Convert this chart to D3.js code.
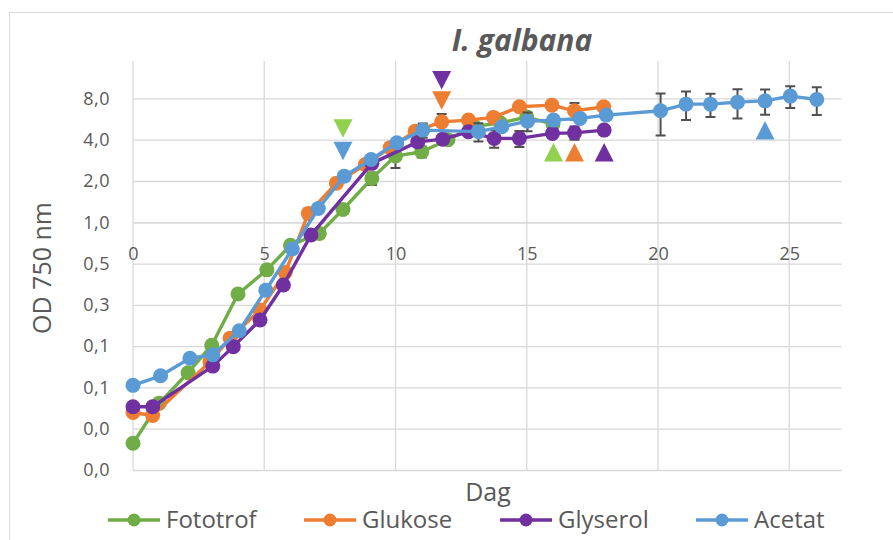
<!DOCTYPE html>
<html>
<head>
<meta charset="utf-8">
<script src="https://cdn.jsdelivr.net/npm/d3@7"></script>
<style>
  html, body { margin: 0; padding: 0; background: #fff; }
  svg { display: block; font-family: 'Open Sans', sans-serif; }
</style>
</head>
<body>
<div id="chart"></div>
<script>
// Data (OD 750 nm vs day)
const fototrofDays = [0, 1, 2.1, 3, 4, 5.1, 6, 7.1, 8, 9.1, 10, 11, 12, 13, 14, 15, 16];
const fototrofOD = [0.0245, 0.048, 0.080, 0.127, 0.30, 0.45, 0.68, 0.83, 1.24, 2.09, 3.04, 3.27, 4.0, 5.0, 5.3, 5.85, 5.2];
const fototrofErr = [0, 0, 0, 0, 0, 0, 0, 0, 0, 0.22, 0.55, 0.3, 0, 0, 0, 0, 0];

const glukoseDays = [0, 0.75, 2.93, 3.7, 4.84, 5.8, 6.68, 7.75, 8.85, 9.8, 10.75, 11.76, 12.78, 13.73, 14.72, 15.96, 16.82, 17.93];
const glukoseOD = [0.041, 0.039, 0.096, 0.143, 0.229, 0.43, 1.16, 1.93, 2.64, 3.5, 4.62, 5.40, 5.56, 5.82, 6.95, 7.15, 6.50, 6.95];
const glukoseErr = [0, 0, 0, 0, 0, 0, 0.1, 0, 0, 0, 0, 0.75, 0, 0, 0, 0, 0.9, 0.4];

const glyserolDays = [0, 0.75, 3.04, 3.82, 4.84, 5.73, 6.78, 9.1, 10.85, 11.8, 12.78, 13.76, 14.72, 15.98, 16.82, 17.95];
const glyserolOD = [0.0452, 0.0452, 0.0894, 0.124, 0.194, 0.349, 0.807, 2.69, 3.86, 4.04, 4.57, 4.09, 4.09, 4.45, 4.49, 4.70];
const glyserolErr = [0, 0, 0, 0, 0, 0, 0, 0, 0, 0, 0, 0.6, 0.55, 0, 0.5, 0.3];

const acetatDays = [0, 1.05, 2.17, 3.04, 4.05, 5.06, 6.07, 7.06, 8.05, 9.07, 10.05, 11.04, 13.16, 14.05, 15.03, 16.02, 17.03, 18.03, 20.1, 21.07, 22, 23.03, 24.08, 25.04, 26.05];
const acetatOD = [0.0647, 0.076, 0.102, 0.108, 0.162, 0.32, 0.638, 1.26, 2.17, 2.87, 3.80, 4.70, 4.58, 4.97, 5.46, 5.56, 5.72, 6.05, 6.50, 7.27, 7.27, 7.52, 7.68, 8.32, 7.87];
const acetatErr = [0, 0, 0, 0, 0, 0, 0, 0, 0, 0, 0, 0.56, 0.7, 0, 0.85, 0, 0, 0, 2.2, 1.7, 1.4, 1.8, 1.6, 1.5, 1.8];

// Phase markers (triangles)
const markerSeries = ['Fototrof', 'Acetat', 'Glyserol', 'Glukose', 'Fototrof', 'Glukose', 'Glyserol', 'Acetat'];
const markerDays = [8, 8, 11.76, 11.76, 16.02, 16.82, 17.95, 24.08];
const markerOD = [4.85, 3.32, 10.9, 7.76, 3.23, 3.23, 3.23, 4.67];
const markerDir = ['down', 'down', 'down', 'down', 'up', 'up', 'up', 'up'];

const seriesNames = ['Fototrof', 'Glukose', 'Glyserol', 'Acetat'];
const xTicks = [0, 5, 10, 15, 20, 25];
const yTicks = [1 / 64, 1 / 32, 1 / 16, 1 / 8, 1 / 4, 1 / 2, 1, 2, 4, 8];
const yTickLabels = ['0,0', '0,0', '0,1', '0,1', '0,3', '0,5', '1,0', '2,0', '4,0', '8,0'];

const lineColor = { Fototrof: '#70AD47', Glukose: '#ED7D31', Glyserol: '#7030A0', Acetat: '#5B9BD5' };
const markerColor = { Fototrof: '#92D050', Glukose: '#ED7D31', Glyserol: '#7030A0', Acetat: '#5B9BD5' };
const textColor = '#595959';
const gridColor = '#d9d9d9';

const series = [
  { name: 'Fototrof', days: fototrofDays, od: fototrofOD, err: fototrofErr },
  { name: 'Glukose', days: glukoseDays, od: glukoseOD, err: glukoseErr },
  { name: 'Glyserol', days: glyserolDays, od: glyserolOD, err: glyserolErr },
  { name: 'Acetat', days: acetatDays, od: acetatOD, err: acetatErr }
].map(s => ({ name: s.name, points: s.days.map((d, i) => ({ x: d, y: s.od[i], e: s.err[i] })) }));

const markers = markerDays.map((d, i) => ({ x: d, y: markerOD[i], dir: markerDir[i], name: markerSeries[i] }));

const width = 893, height = 540;
const plot = { left: 133, right: 841.7, top: 61, bottom: 470 };

const svg = d3.select('#chart').append('svg')
  .attr('width', width)
  .attr('height', height);

// Chart border
svg.append('rect')
  .attr('x', 9.5).attr('y', 12.5)
  .attr('width', 900).attr('height', 600)
  .attr('fill', 'none')
  .attr('stroke', gridColor)
  .attr('stroke-width', 1);

const x = d3.scaleLinear().domain([0, 27]).range([plot.left, plot.right]);
const y = d3.scaleLog().base(2).domain([1 / 64, 15]).range([plot.bottom, plot.top]);

// Horizontal grid + y labels
svg.append('g')
  .attr('transform', `translate(${plot.left},0)`)
  .call(d3.axisLeft(y).tickValues(yTicks).tickFormat((d, i) => yTickLabels[i]).tickSize(-(plot.right - plot.left)).tickPadding(23))
  .call(g => g.select('.domain').remove())
  .call(g => g.selectAll('line').attr('stroke', gridColor).attr('stroke-width', 1.3))
  .call(g => g.selectAll('text').attr('fill', textColor).style('font-size', '18px').style('letter-spacing', '0.5px').style('font-family', "'Open Sans', sans-serif"));

// Vertical grid
svg.append('g')
  .selectAll('line')
  .data(xTicks)
  .join('line')
  .attr('x1', d => x(d)).attr('x2', d => x(d))
  .attr('y1', plot.top).attr('y2', plot.bottom)
  .attr('stroke', gridColor)
  .attr('stroke-width', 1.3);

// X axis crossing at OD = 1
svg.append('g')
  .attr('transform', `translate(0,${y(1)})`)
  .call(d3.axisBottom(x).tickValues(xTicks).tickSize(0).tickPadding(25))
  .call(g => g.select('.domain').attr('stroke', gridColor).attr('stroke-width', 1.3))
  .call(g => g.selectAll('text').attr('fill', textColor).style('font-size', '18px').style('font-family', "'Open Sans', sans-serif"));

// Series
const line = d3.line().x(d => x(d.x)).y(d => y(d.y));

series.forEach(s => {
  const g = svg.append('g');
  const withErr = s.points.filter(p => p.e > 0);

  g.selectAll('.eb')
    .data(withErr)
    .join('path')
    .attr('d', p => {
      const cx = x(p.x), y1 = y(p.y + p.e), y2 = y(p.y - p.e);
      return `M${cx},${y1}V${y2}M${cx - 5},${y1}H${cx + 5}M${cx - 5},${y2}H${cx + 5}`;
    })
    .attr('fill', 'none')
    .attr('stroke', '#505050')
    .attr('stroke-width', 2);

  g.append('path')
    .datum(s.points)
    .attr('d', line)
    .attr('fill', 'none')
    .attr('stroke', lineColor[s.name])
    .attr('stroke-width', 3.4)
    .attr('stroke-linejoin', 'round');

  g.selectAll('circle')
    .data(s.points)
    .join('circle')
    .attr('cx', p => x(p.x))
    .attr('cy', p => y(p.y))
    .attr('r', 7.5)
    .attr('fill', lineColor[s.name]);
});

// Phase triangles
const tri = (dir) => dir === 'up'
  ? 'M-9.5,9L9.5,9L0,-9.5Z'
  : 'M-9.5,-9L9.5,-9L0,9.5Z';

svg.append('g')
  .selectAll('path')
  .data(markers)
  .join('path')
  .attr('transform', d => `translate(${x(d.x)},${y(d.y)})`)
  .attr('d', d => tri(d.dir))
  .attr('fill', d => markerColor[d.name]);

// Title
svg.append('text')
  .attr('x', 522).attr('y', 51)
  .attr('text-anchor', 'middle')
  .attr('fill', textColor)
  .style('font-size', '30px')
  .style('font-weight', 'bold')
  .style('font-style', 'italic')
  .text('I. galbana');

// Axis titles
svg.append('text')
  .attr('transform', 'translate(51,268) rotate(-90)')
  .attr('text-anchor', 'middle')
  .attr('fill', textColor)
  .style('font-size', '25px')
  .text('OD 750 nm');

svg.append('text')
  .attr('x', 488).attr('y', 501)
  .attr('text-anchor', 'middle')
  .attr('fill', textColor)
  .style('font-size', '25px')
  .text('Dag');

// Legend
const legend = svg.append('g')
  .selectAll('g')
  .data(seriesNames)
  .join('g')
  .attr('transform', (d, i) => `translate(${108 + i * 196},520)`);

legend.append('line')
  .attr('x1', 0).attr('x2', 52)
  .attr('stroke', d => lineColor[d])
  .attr('stroke-width', 3.4);

legend.append('circle')
  .attr('cx', 26).attr('r', 6.5)
  .attr('fill', d => lineColor[d]);

legend.append('text')
  .attr('x', 58).attr('y', 8)
  .attr('fill', textColor)
  .style('font-size', '24px')
  .text(d => d);
</script>
</body>
</html>
